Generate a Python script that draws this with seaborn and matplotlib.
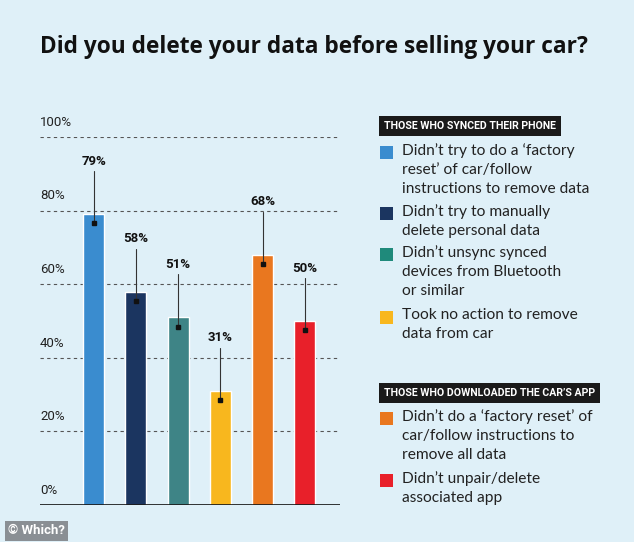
import seaborn as sns
import matplotlib.pyplot as plt
import pandas as pd

# data
categories = ["No factory reset", "No manual delete", "No Bluetooth unsync",
              "No action", "No factory reset (app)", "No unpair app"]
values = [79, 58, 51, 31, 68, 50]
bar_colors = ["#3a8ccf", "#1b3560", "#3e8486", "#f8b71e", "#e9771f", "#e8202a"]
swatch_colors = ["#3a8ccf", "#1b3560", "#1f8a7b", "#f8b71e", "#e9771f", "#e8202a"]
yticks = [0, 20, 40, 60, 80, 100]
group1_title = "THOSE WHO SYNCED THEIR PHONE"
group1_labels = ["Didn\u2019t try to do a \u2018factory\nreset\u2019 of car/follow\ninstructions to remove data",
                 "Didn\u2019t try to manually\ndelete personal data",
                 "Didn\u2019t unsync synced\ndevices from Bluetooth\nor similar",
                 "Took no action to remove\ndata from car"]
group2_title = "THOSE WHO DOWNLOADED THE CAR\u2019S APP"
group2_labels = ["Didn\u2019t do a \u2018factory reset\u2019 of\ncar/follow instructions to\nremove all data",
                 "Didn\u2019t unpair/delete\nassociated app"]

bg = "#dff0f8"
sns.set_theme(style="white")
plt.rcParams['font.family'] = ['Roboto', 'DejaVu Sans']

df = pd.DataFrame({"cat": categories, "val": values})

fig = plt.figure(figsize=(6.34, 5.42), dpi=100, facecolor=bg)
W, H = 634, 542
ax = fig.add_axes([40 / W, 1 - 505 / H, 300 / W, 368 / H])
ax.set_facecolor(bg)

sns.barplot(data=df, x="cat", y="val", hue="cat", palette=bar_colors,
            legend=False, width=0.5, saturation=1, ax=ax, zorder=3)

ax.set_ylim(0, 100)
ax.set_xlim(-1.27, 5.83)
for s in ax.spines.values():
    s.set_visible(False)
ax.set_xticks([])
ax.set_yticks([])
ax.set_xlabel("")
ax.set_ylabel("")

# gridlines with labels sitting above them
for t in yticks:
    if t == 0:
        ax.axhline(0, color="#111111", lw=1.2, zorder=4)
    else:
        ax.axhline(t, color="#555555", lw=0.8, ls=(0, (3, 3)), zorder=1)
    ax.text(0, t + 4, f"{t}%", transform=ax.get_yaxis_transform(),
            ha="left", va="center", fontsize=9.5, color="#222222")

# value labels with leader lines
for i, v in enumerate(values):
    ax.text(i, v + 14.4, f"{v}%", ha="center", va="center", fontsize=9.5,
            fontweight="bold", color="#111111")
    ax.plot([i, i], [v + 11.7, v - 2.5], color="#333333", lw=0.8, zorder=5)
    ax.plot(i, v - 2.5, marker="s", ms=2.5, color="#111111", zorder=6)

# title
fig.text(40 / W, 1 - 47 / H, "Did you delete your data before selling your car?",
         ha="left", va="center", fontsize=16.3, fontweight="bold",
         color="#111111", family=['Open Sans', 'DejaVu Sans'])


def group(y_head, title, labels, colors, y_items):
    fig.text(384 / W, 1 - y_head / H, title, ha="left", va="center",
             fontsize=7.6, fontweight="bold", color="white",
             bbox=dict(boxstyle="square,pad=0.45", fc="#1a1a1a", ec="none"))
    for lab, c, y in zip(labels, colors, y_items):
        fig.patches.append(plt.Rectangle((380 / W, 1 - (y + 6.5) / H), 13 / W, 13 / H,
                                         transform=fig.transFigure, fc=c, ec="none"))
        fig.text(402 / W, 1 - (y - 9) / H, lab, ha="left", va="top",
                 fontsize=11.2, color="#222222", linespacing=1.45,
                 family=['Lato', 'DejaVu Sans'])


group(126, group1_title, group1_labels, swatch_colors[:4], [152, 213, 254, 317])
group(393, group2_title, group2_labels, swatch_colors[4:], [418, 480])

# credit box
fig.text(8 / W, 1 - 531 / H, "\u00a9 Which?", ha="left", va="center",
         fontsize=9.5, fontweight="bold", color="white",
         bbox=dict(boxstyle="square,pad=0.25", fc="#8a8f94", ec="none"))

fig.savefig("out.png", dpi=100, facecolor=bg)
